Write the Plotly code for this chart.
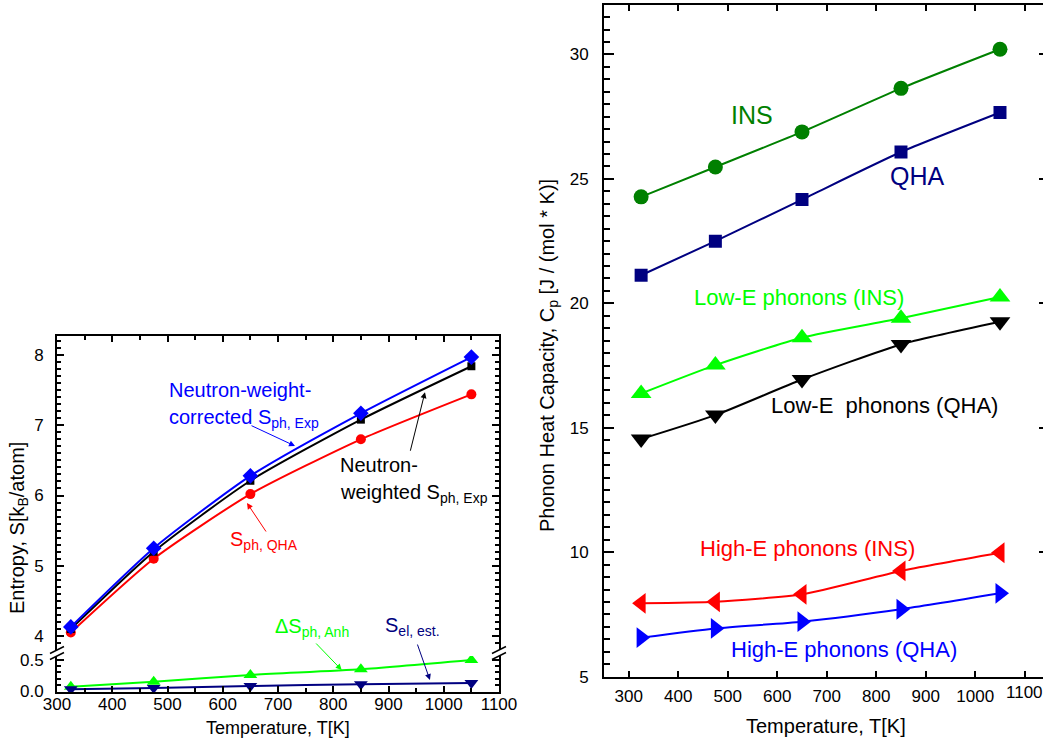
import plotly.graph_objects as go

W, H = 1043, 740
FONT = "Liberation Sans, Arial, sans-serif"

# ---- data ----------------------------------------------------------------
temperature = [325, 475, 650, 850, 1050]

# entropy, k_B/atom
s_ph_exp_corrected = [4.13, 5.25, 6.28, 7.17, 7.97]
s_ph_exp_weighted = [4.10, 5.20, 6.21, 7.08, 7.84]
s_ph_qha = [4.05, 5.10, 6.02, 6.80, 7.44]
ds_ph_anh = [0.07, 0.15, 0.26, 0.35, 0.50]
s_el_est = [0.03, 0.05, 0.08, 0.11, 0.13]

# phonon heat capacity, J/(mol K)
cp_ins = [24.28, 25.48, 26.89, 28.64, 30.21]
cp_qha = [21.13, 22.50, 24.17, 26.08, 27.67]
cp_low_ins = [16.38, 17.52, 18.62, 19.40, 20.26]
cp_low_qha = [14.55, 15.51, 16.94, 18.35, 19.26]
cp_high_ins = [7.95, 8.01, 8.31, 9.25, 9.98]
cp_high_qha = [6.57, 6.94, 7.21, 7.71, 8.35]

# temperature ticks of the heat capacity panel
cp_ticks = [300, 400, 500, 600, 700, 800, 900, 1000, 1100]


def px(x):
    return x / W


def py(y):
    return 1 - y / H


def series(x, y, color, symbol, size, xa, ya, width=2):
    return go.Scatter(
        x=x, y=y, mode="lines+markers", xaxis=xa, yaxis=ya,
        line=dict(color=color, width=width, shape="spline", smoothing=0.6),
        marker=dict(color=color, symbol=symbol, size=size, line=dict(width=0)),
        showlegend=False, hoverinfo="skip",
    )


fig = go.Figure()

# entropy panel: upper (x2, y) and lower (x, y2) parts of a broken axis
fig.add_trace(series(temperature, s_ph_qha, "#ff0000", "circle", 10, "x2", "y"))
fig.add_trace(series(temperature, s_ph_exp_weighted, "#000000", "square", 8, "x2", "y"))
fig.add_trace(series(temperature, s_ph_exp_corrected, "#0000ff", "diamond", 12, "x2", "y"))
fig.add_trace(series(temperature, ds_ph_anh, "#00ff00", "triangle-up", 12, "x", "y2"))
fig.add_trace(series(temperature, s_el_est, "#000080", "triangle-down", 12, "x", "y2"))

# heat capacity panel (x3, y3)
fig.add_trace(series(temperature, cp_ins, "#008000", "circle", 15, "x3", "y3"))
fig.add_trace(series(temperature, cp_qha, "#000080", "square", 13, "x3", "y3"))
fig.add_trace(series(temperature, cp_low_ins, "#00ff00", "triangle-up", 18, "x3", "y3"))
fig.add_trace(series(temperature, cp_low_qha, "#000000", "triangle-down", 18, "x3", "y3"))
fig.add_trace(series(temperature, cp_high_ins, "#ff0000", "triangle-left", 18, "x3", "y3"))
fig.add_trace(series(temperature, cp_high_qha, "#0000ff", "triangle-right", 18, "x3", "y3"))
# carrier for the right-hand tick marks of the heat capacity frame
fig.add_trace(go.Scatter(x=[None], y=[None], xaxis="x3", yaxis="y4",
                         showlegend=False, hoverinfo="skip"))

axis_common = dict(
    showline=True, linecolor="black", linewidth=2, showgrid=False,
    zeroline=False, ticks="inside", tickcolor="black", tickwidth=1.5,
    automargin=False, ticklabeloverflow="allow",
    tickfont=dict(family=FONT, size=17, color="black"),
)

left_dom = [px(57), px(499)]
fig.update_layout(
    width=W, height=H,
    margin=dict(l=0, r=0, t=0, b=0, pad=0, autoexpand=False),
    paper_bgcolor="white", plot_bgcolor="white",
    font=dict(family=FONT, color="black"),
    xaxis=dict(axis_common, domain=left_dom, anchor="y2", range=[300, 1100],
               tick0=0, dtick=100, ticklen=6, ticklabelstandoff=-4,
               minor=dict(dtick=50, ticks="inside", ticklen=4, tickcolor="black")),
    xaxis2=dict(axis_common, domain=left_dom, anchor="y", side="top",
                range=[300, 1100], tick0=0, dtick=100, ticklen=6,
                showticklabels=False,
                minor=dict(dtick=50, ticks="inside", ticklen=4, tickcolor="black")),
    yaxis=dict(axis_common, domain=[py(650), py(336)], anchor="x2",
               range=[3.801, 8.2705], tick0=0, dtick=1, ticklen=7,
               mirror="ticks", ticklabelstandoff=8,
               minor=dict(dtick=0.1, ticks="inside", ticklen=4, tickcolor="black")),
    yaxis2=dict(axis_common, domain=[py(692), py(656)], anchor="x",
                range=[-0.016, 0.565], tick0=0, dtick=0.5, tickformat=".1f",
                ticklen=7, mirror="ticks", ticklabelstandoff=8,
                minor=dict(dtick=0.1, ticks="inside", ticklen=4, tickcolor="black")),
    xaxis3=dict(axis_common, domain=[px(604), 1.0], anchor="y3",
                range=[250, 1136.9], tickmode="array", tickvals=cp_ticks,
                ticktext=[str(t) if t < 1100 else "" for t in cp_ticks],
                ticklen=6, mirror="ticks", ticklabelstandoff=3),
    yaxis3=dict(axis_common, domain=[py(676.7), py(4.7)], anchor="x3",
                range=[5, 32], tick0=0, dtick=5, ticklen=10, ticklabelstandoff=10,
                minor=dict(dtick=0.5, ticks="inside", ticklen=6, tickcolor="black")),
    yaxis4=dict(overlaying="y3", side="right", anchor="x3", range=[5, 32],
                tick0=0, dtick=5, ticks="inside", ticklen=4, tickwidth=1.5,
                tickcolor="black", showticklabels=False, showline=False,
                showgrid=False, zeroline=False, automargin=False),
)

# axis break marks on the entropy frame
for xb in (57, 499):
    for yb in (650, 656):
        fig.add_shape(type="line", xref="paper", yref="paper",
                      x0=px(xb - 7), y0=py(yb + 3.5), x1=px(xb + 7), y1=py(yb - 3.5),
                      line=dict(color="black", width=1.5))

annotations = []


def label(text, x, y, color, size, xanchor="left", angle=0):
    annotations.append(dict(
        text=text, x=px(x), y=py(y), xref="paper", yref="paper",
        xanchor=xanchor, yanchor="middle", showarrow=False, textangle=angle,
        font=dict(family=FONT, size=size, color=color),
    ))


def arrow(x, y, ax, ay, xref, yref, color):
    annotations.append(dict(
        text="", x=x, y=y, xref=xref, yref=yref, ax=ax, ay=ay,
        showarrow=True, arrowhead=2, arrowsize=1.2, arrowwidth=1,
        arrowcolor=color, standoff=0,
    ))


# last temperature label of the heat capacity axis, running off the right edge
annotations.append(dict(
    text=str(cp_ticks[-1]), x=cp_ticks[-1], xref="x3", y=py(692), yref="paper",
    xanchor="center", yanchor="middle", showarrow=False,
    font=dict(family=FONT, size=17, color="black"),
))

# axis titles
label("Temperature, T[K]", 278, 728, "black", 18, xanchor="center")
label("Entropy, S[k<sub>B</sub>/atom]", 18, 528, "black", 20, xanchor="center", angle=-90)
label("Temperature, T[K]", 826, 726, "black", 20, xanchor="center")
label("Phonon Heat Capacity, C<sub>p</sub> [J / (mol * K)]", 548, 356, "black", 20,
      xanchor="center", angle=-90)

# entropy panel labels
label("Neutron-weight-", 167, 390, "#0000ff", 20)
label("corrected S<sub>ph, Exp</sub>", 167, 418, "#0000ff", 20)
label("Neutron-", 338, 465, "black", 20)
label("weighted S<sub>ph, Exp</sub>", 338, 493, "black", 20)
label("S<sub>ph, QHA</sub>", 228, 540, "#ff0000", 20)
label("ΔS<sub>ph, Anh</sub>", 273, 627, "#00ff00", 20)
label("S<sub>el, est.</sub>", 383, 626, "#000080", 20)

arrow(730.8, 6.705, -45, -21, "x2", "y", "#0000ff")
arrow(966, 7.47, -15, 60, "x2", "y", "black")
arrow(643.9, 5.893, 20, 30, "x2", "y", "#ff0000")
arrow(815.3, 0.339, -27, -28, "x", "y2", "#00ff00")
arrow(975, 0.177, -13, -37, "x", "y2", "#000080")

# heat capacity panel labels
label("INS", 752, 115, "#008000", 25, xanchor="center")
label("QHA", 917, 176, "#000080", 25, xanchor="center")
label("Low-E phonons (INS)", 799, 297, "#00ff00", 22, xanchor="center")
label("Low-E\u00a0 phonons (QHA)", 884, 406, "black", 22, xanchor="center")
label("High-E phonons (INS)", 807, 548, "#ff0000", 22, xanchor="center")
label("High-E phonons (QHA)", 844, 649, "#0000ff", 22, xanchor="center")

fig.update_layout(annotations=annotations)

fig.write_html("out.html")
